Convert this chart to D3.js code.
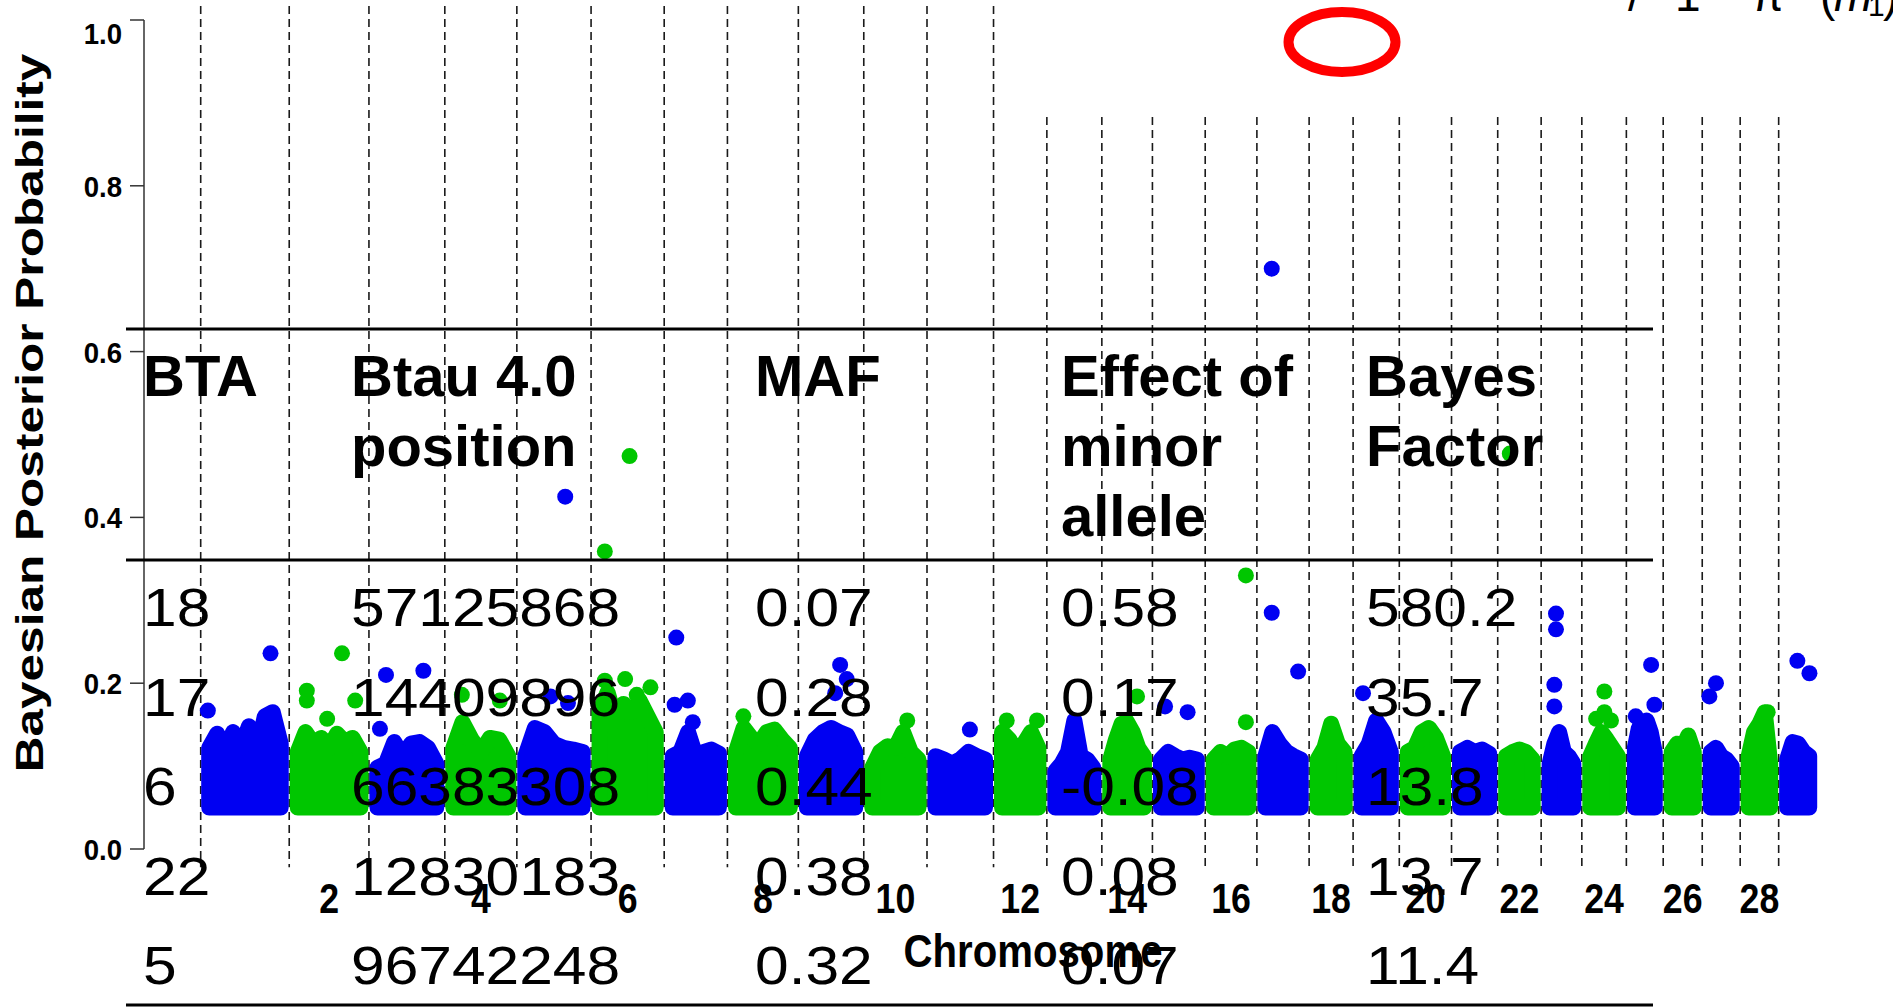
<!DOCTYPE html>
<html>
<head>
<meta charset="utf-8">
<script src="https://cdn.jsdelivr.net/npm/d3@7"></script>
<style>
body { margin: 0; background: #fff; }
svg { display: block; }
text { font-family: "Liberation Sans", Arial, sans-serif; fill: #000; }
</style>
</head>
<body>
<div id="chart"></div>
<script>
// chromosome spans (Mb, as drawn on the axis)
var chromLen = [161, 145, 138, 131, 135, 133, 115, 129, 119, 115, 121, 97, 100, 92, 96,
	94, 95, 80, 84, 95, 84, 79, 74, 81, 67, 71, 69, 70, 71];

// upper edge of the dense SNP cloud, read left to right along each chromosome
var chromTop = [
	[0.122, 0.139, 0.117, 0.141, 0.122, 0.148, 0.117, 0.160, 0.165, 0.127],
	[0.117, 0.141, 0.127, 0.134, 0.122, 0.139, 0.129, 0.134, 0.117],
	[0.098, 0.103, 0.129, 0.112, 0.127, 0.129, 0.122, 0.103],
	[0.122, 0.153, 0.132, 0.117, 0.134, 0.132, 0.112],
	[0.112, 0.146, 0.141, 0.127, 0.122, 0.120, 0.117],
	[0.165, 0.189, 0.155, 0.175, 0.165, 0.179, 0.160, 0.141],
	[0.112, 0.117, 0.141, 0.112, 0.117, 0.120, 0.115],
	[0.117, 0.146, 0.134, 0.127, 0.141, 0.144, 0.132, 0.122],
	[0.112, 0.132, 0.141, 0.146, 0.141, 0.137, 0.117],
	[0.098, 0.117, 0.124, 0.122, 0.141, 0.117, 0.108],
	[0.112, 0.108, 0.103, 0.108, 0.117, 0.112, 0.108],
	[0.141, 0.132, 0.117, 0.127, 0.141, 0.122],
	[0.094, 0.103, 0.117, 0.155, 0.112, 0.108, 0.098],
	[0.108, 0.132, 0.151, 0.153, 0.141, 0.122, 0.112],
	[0.108, 0.117, 0.112, 0.108, 0.110, 0.108],
	[0.108, 0.117, 0.112, 0.120, 0.122, 0.117],
	[0.112, 0.141, 0.127, 0.117, 0.112, 0.108],
	[0.108, 0.122, 0.151, 0.127, 0.117],
	[0.112, 0.127, 0.155, 0.141, 0.117],
	[0.117, 0.122, 0.141, 0.146, 0.134, 0.112],
	[0.117, 0.122, 0.117, 0.120, 0.115],
	[0.112, 0.117, 0.120, 0.117, 0.108],
	[0.103, 0.127, 0.141, 0.117, 0.112, 0.103],
	[0.112, 0.127, 0.141, 0.132, 0.122, 0.112],
	[0.122, 0.146, 0.141, 0.155, 0.141, 0.117],
	[0.117, 0.127, 0.122, 0.137, 0.117],
	[0.117, 0.122, 0.112, 0.108, 0.100],
	[0.112, 0.141, 0.151, 0.165, 0.103],
	[0.108, 0.129, 0.127, 0.117, 0.112]
];
var cloudBase = 0.05;

// single SNPs standing above the cloud: [chromosome, position (Mb), posterior probability]
var snps = [
	[1, 127, 0.236], [1, 13, 0.167],
	[2, 96, 0.236], [2, 32, 0.191], [2, 32, 0.179], [2, 120, 0.179], [2, 69, 0.157],
	[3, 31, 0.210], [3, 99, 0.215], [3, 20, 0.145],
	[4, 31, 0.186], [4, 100, 0.179],
	[5, 88, 0.425], [5, 61, 0.184], [5, 93, 0.176],
	[6, 70, 0.474], [6, 25, 0.359], [6, 62, 0.205], [6, 108, 0.195], [6, 25, 0.203], [6, 83, 0.186],
	[7, 22, 0.255], [7, 19, 0.174], [7, 43, 0.179], [7, 52, 0.153],
	[8, 29, 0.160],
	[9, 76, 0.222], [9, 88, 0.205], [9, 67, 0.188],
	[10, 79, 0.155],
	[11, 78, 0.144],
	[12, 24, 0.155], [12, 79, 0.155],
	[14, 64, 0.184],
	[15, 23, 0.172], [15, 64, 0.165],
	[16, 74, 0.330], [16, 74, 0.153],
	[17, 27, 0.700], [17, 27, 0.285], [17, 75, 0.214],
	[19, 18, 0.188],
	[22, 22, 0.477],
	[23, 27, 0.284], [23, 27, 0.265], [23, 24, 0.198], [23, 24, 0.172],
	[24, 41, 0.190], [24, 26, 0.157], [24, 53, 0.155], [24, 41, 0.165],
	[25, 45, 0.222], [25, 51, 0.174], [25, 17, 0.160],
	[27, 25, 0.200], [27, 13, 0.184],
	[28, 50, 0.165],
	[29, 34, 0.227], [29, 56, 0.212]
];

var yTicks = [0, 0.2, 0.4, 0.6, 0.8, 1.0];
var labelledChroms = [2, 4, 6, 8, 10, 12, 14, 16, 18, 20, 22, 24, 26, 28];

var tableHead = [["BTA"], ["Btau 4.0", "position"], ["MAF"], ["Effect of", "minor", "allele"], ["Bayes", "Factor"]];
var tableRows = [
	["18", "57125868", "0.07", "0.58", "580.2"],
	["17", "14409896", "0.28", "0.17", "35.7"],
	["6", "66383308", "0.44", "-0.08", "13.8"],
	["22", "12830183", "0.38", "0.08", "13.7"],
	["5", "96742248", "0.32", "0.07", "11.4"]
];

var formulaParts = ["/", "1", "\u2212", "\u03c0", "(", "m", "1", ")"];

function drawChart(id) {
	var W = 1893, H = 1008, r = 8;
	var blue = "#0000f2", green = "#00c600";
	var svg = d3.select(id).append("svg").attr("width", W).attr("height", H);

	var starts = [], acc = 0;
	chromLen.forEach(function(d) { starts.push(acc); acc += d; });
	var x = d3.scaleLinear().domain([0, acc]).range([200.7, 1817.7]);
	var y = d3.scaleLinear().domain([0, 1]).range([849, 20]);
	var col = function(i) { return i % 2 === 0 ? blue : green; };

	// chromosome boundaries
	svg.append("g").selectAll("line").data(starts).enter().append("line")
		.attr("x1", function(d) { return x(d); })
		.attr("x2", function(d) { return x(d); })
		.attr("y1", function(d, i) { return i < 12 ? y(1.017) : y(0.883); })
		.attr("y2", y(-0.022))
		.attr("stroke", "#1a1a1a").attr("stroke-width", 1.6).attr("stroke-dasharray", "8,5");

	// dense SNP cloud of each chromosome
	svg.append("g").selectAll("path").data(chromTop).enter().append("path")
		.attr("d", function(env, i) {
			var x0 = x(starts[i]) + r + 0.5, x1 = x(starts[i] + chromLen[i]) - r - 0.5;
			var step = (x1 - x0) / (env.length - 1);
			var pts = [[x0, y(cloudBase)]];
			env.forEach(function(v, k) { pts.push([x0 + k * step, y(v)]); });
			pts.push([x1, y(cloudBase)]);
			return d3.line()(pts) + "Z";
		})
		.attr("fill", function(d, i) { return col(i); })
		.attr("stroke", function(d, i) { return col(i); })
		.attr("stroke-width", 2 * r)
		.attr("stroke-linejoin", "round");

	svg.append("g").selectAll("circle").data(snps).enter().append("circle")
		.attr("cx", function(d) { return x(starts[d[0] - 1] + d[1]); })
		.attr("cy", function(d) { return y(d[2]); })
		.attr("r", r)
		.attr("fill", function(d) { return col(d[0] - 1); });

	// y axis
	var ax = svg.append("g");
	ax.append("line").attr("x1", 144).attr("x2", 144).attr("y1", y(0)).attr("y2", y(1))
		.attr("stroke", "#333").attr("stroke-width", 1.5);
	var tk = ax.selectAll(".tk").data(yTicks).enter().append("g")
		.attr("transform", function(d) { return "translate(0," + y(d) + ")"; });
	tk.append("line").attr("x1", 130).attr("x2", 144).attr("stroke", "#333").attr("stroke-width", 1.5);
	tk.append("text")
		.attr("transform", function(d) { return "translate(122," + (d === 1 ? 24 : 11) + ") scale(0.92,1)"; })
		.attr("text-anchor", "end").attr("font-weight", "bold").attr("font-size", 30)
		.text(function(d) { return d.toFixed(1); });

	var yt = svg.append("text")
		.attr("text-anchor", "middle").attr("font-weight", "bold").attr("font-size", 39)
		.text("Bayesian Posterior Probability");
	var ytLen = yt.node().getComputedTextLength();
	yt.attr("transform", "translate(43,413) rotate(-90) scale(" + (719 / ytLen) + ",1)");

	// chromosome labels
	svg.append("g").selectAll("text").data(labelledChroms).enter().append("text")
		.attr("transform", function(c) {
			return "translate(" + x(starts[c - 1] + chromLen[c - 1] / 2) + ",913) scale(0.85,1)";
		})
		.attr("text-anchor", "middle").attr("font-weight", "bold").attr("font-size", 42)
		.text(function(c) { return c; });
	svg.append("text")
		.attr("transform", "translate(1033,967) scale(0.855,1)")
		.attr("text-anchor", "middle").attr("font-weight", "bold").attr("font-size", 47)
		.text("Chromosome");

	// table laid over the plot
	var colX = [143, 351, 755, 1061, 1366];
	var tb = svg.append("g");
	[329, 560, 1005].forEach(function(ly) {
		tb.append("line").attr("x1", 126).attr("x2", 1653).attr("y1", ly).attr("y2", ly)
			.attr("stroke", "#000").attr("stroke-width", 3);
	});
	tableHead.forEach(function(lines, c) {
		tb.selectAll(null).data(lines).enter().append("text")
			.attr("x", colX[c]).attr("y", function(d, k) { return 396 + k * 70; })
			.attr("font-weight", "bold").attr("font-size", 58)
			.text(function(d) { return d; });
	});
	tableRows.forEach(function(row, k) {
		tb.selectAll(null).data(row).enter().append("text")
			.attr("transform", function(d, c) {
				return "translate(" + colX[c] + "," + (626 + k * 89.5) + ") scale(1.12,1)";
			})
			.attr("font-size", 54)
			.text(function(d) { return d; });
	});

	// slide annotations
	svg.append("ellipse").attr("cx", 1342).attr("cy", 42).attr("rx", 53.5).attr("ry", 30)
		.attr("fill", "none").attr("stroke", "#ff0000").attr("stroke-width", 10);
	var fx = [1628, 1675, 1712, 1752, 1820, 1834, 1868, 1883];
	svg.append("g").selectAll("text").data(formulaParts).enter().append("text")
		.attr("x", function(d, i) { return fx[i]; })
		.attr("y", function(d, i) { return i === 6 ? 16 : 11; })
		.attr("font-family", "'Liberation Serif', 'Times New Roman', serif")
		.attr("font-style", function(d, i) { return i === 5 ? "italic" : "normal"; })
		.attr("font-size", function(d, i) { return i === 6 ? 30 : 46; })
		.attr("fill", "#222")
		.text(function(d) { return d; });
}

window.onload = function() {
	drawChart("#chart");
};
</script>
</body>
</html>
